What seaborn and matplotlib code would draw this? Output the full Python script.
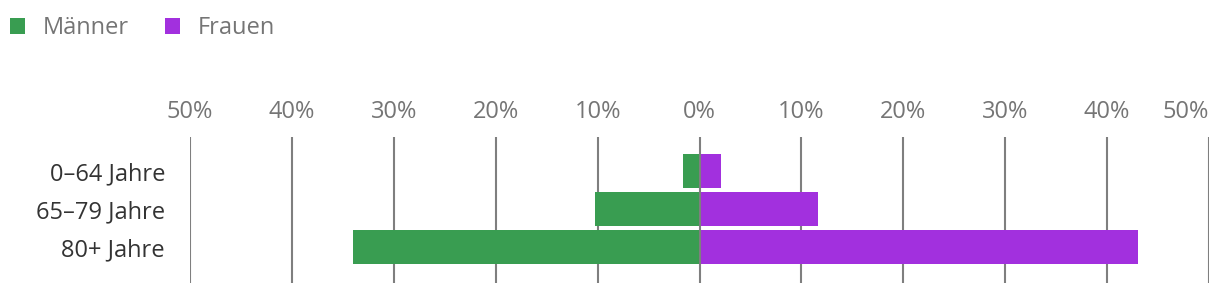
import matplotlib
matplotlib.use("Agg")
import matplotlib.pyplot as plt
from matplotlib.patches import Patch
import seaborn as sns
import pandas as pd
import numpy as np

categories = ["0–64 Jahre", "65–79 Jahre", "80+ Jahre"]
maenner = [1.6, 10.3, 34.0]
frauen = [2.1, 11.6, 43.0]
ticks = [-50, -40, -30, -20, -10, 0, 10, 20, 30, 40, 50]
tick_labels = ["50%", "40%", "30%", "20%", "10%", "0%", "10%", "20%", "30%", "40%", "50%"]
series_names = ["Männer", "Frauen"]

GREEN = "#399D51"
PURPLE = "#A230DE"
GRID = "#7f7f7f"

sns.set_theme(style="white")
plt.rcParams["font.family"] = ["Open Sans", "DejaVu Sans"]

W, H = 1220, 296
fig = plt.figure(figsize=(W / 100, H / 100), dpi=100)
ax_left, ax_right, ax_top, ax_bot = 190, 1209, 137, 283
ax = fig.add_axes([ax_left / W, 1 - ax_bot / H, (ax_right - ax_left) / W, (ax_bot - ax_top) / H])

df = pd.DataFrame({
    "Altersgruppe": categories * 2,
    "Wert": [-v for v in maenner] + list(frauen),
    "Geschlecht": [series_names[0]] * 3 + [series_names[1]] * 3,
})

sns.barplot(data=df, x="Wert", y="Altersgruppe", hue="Geschlecht",
            palette=[GREEN, PURPLE], orient="h", width=0.895, dodge=False,
            saturation=1, legend=False, ax=ax, zorder=2, linewidth=0)

for t in ticks:
    ax.axvline(t, color=GRID, lw=1.5, zorder=1 if t != 0 else 3)

ax.set_xlim(-50, 50)
ax.set_ylim(2.947, -0.895)
ax.set_xlabel("")
ax.set_ylabel("")
ax.xaxis.tick_top()
ax.set_xticks(ticks)
ax.set_xticklabels(tick_labels)
ax.tick_params(axis="x", length=0, pad=9, labelsize=17, labelcolor="#757575")
ax.tick_params(axis="y", length=0, pad=18, labelsize=17, labelcolor="#333333")
xl = ax.get_xticklabels()
xl[-1].set_horizontalalignment("right")
for s in ax.spines.values():
    s.set_visible(False)
ax.grid(False)

handles = [Patch(facecolor=GREEN, edgecolor="none"), Patch(facecolor=PURPLE, edgecolor="none")]
leg = fig.legend(handles, series_names, loc="center left",
                 bbox_to_anchor=(10 / W, 1 - 28 / H), ncol=2, frameon=False,
                 fontsize=17, handlelength=0.64, handleheight=0.64,
                 handletextpad=0.76, columnspacing=1.5, borderpad=0, borderaxespad=0)
for txt in leg.get_texts():
    txt.set_color("#757575")

fig.savefig("out.png", dpi=100)
